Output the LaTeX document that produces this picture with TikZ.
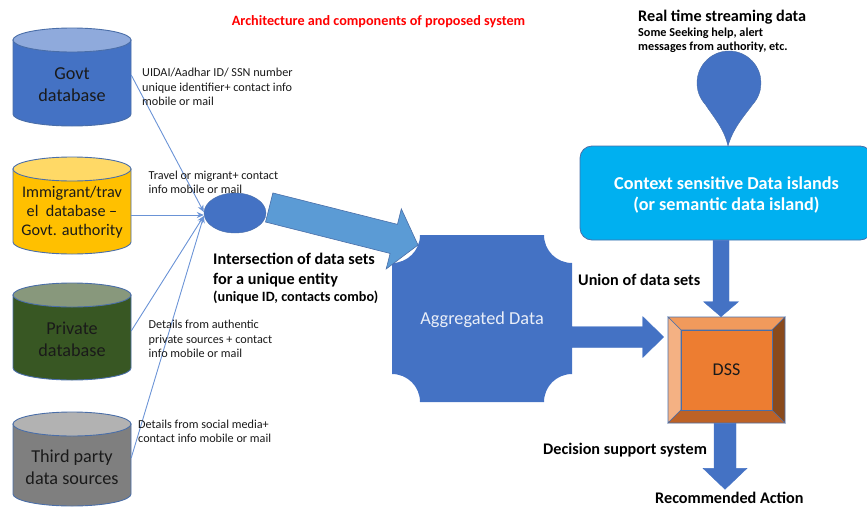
\documentclass[tikz,border=0pt]{standalone}
\usepackage{fontspec}
\setmainfont{Carlito}
\usetikzlibrary{arrows.meta,calc,shapes.geometric}
\definecolor{cblue}{HTML}{4472C4}
\definecolor{cbluetop}{HTML}{8FAADC}
\definecolor{cyel}{HTML}{FFC000}
\definecolor{cyeltop}{HTML}{FFD966}
\definecolor{cgreen}{HTML}{385723}
\definecolor{cgreentop}{HTML}{88987C}
\definecolor{cgray}{HTML}{7F7F7F}
\definecolor{cgraytop}{HTML}{B2B2B2}
\definecolor{cedge}{HTML}{4A6EA8}
\definecolor{cline}{HTML}{6A93D6}
\definecolor{cink}{HTML}{1A1A1A}
\definecolor{clight}{HTML}{5B9BD5}
\definecolor{cisland}{HTML}{00B0F0}
\definecolor{bevtop}{HTML}{F19A5C}
\definecolor{bevleft}{HTML}{F4B183}
\definecolor{bevright}{HTML}{8A4A1C}
\definecolor{bevbot}{HTML}{BD6226}
\definecolor{bevface}{HTML}{ED7D31}
\newcommand{\immfont}{\fontsize{16.2}{19}\selectfont}
\tikzset{
  cyltext/.style={font=\fontsize{18.2}{22}\selectfont,text=cink,align=center,inner sep=0pt},
  small/.style={font=\fontsize{12.2}{14.3}\selectfont,text=cink,align=left,anchor=west,inner sep=0pt},
  boldlab/.style={font=\bfseries\fontsize{16.2}{20}\selectfont,text=black,align=left,anchor=west,inner sep=0pt},
  thin link/.style={draw=cline,line width=0.9pt,-{Stealth[length=7pt,width=6pt]}},
  block/.style={fill=cblue,draw=cblue,line width=0.4pt},
  bevel/.style={draw=cedge,line width=0.6pt},
}
% #1 name, #2 top, #3 bottom, #4 body, #5 end, #6 text centre y, #7 text, #8 extra node style
\newcommand{\dbcyl}[8]{
  \path[fill=#4,draw=cedge,line width=0.9pt] (13,#2+12) -- (13,#3-12)
    arc[start angle=180,end angle=360,x radius=59pt,y radius=12pt] -- (131,#2+12) -- cycle;
  \path[fill=#5,draw=cedge,line width=0.9pt] (72,#2+12) ellipse[x radius=59pt,y radius=12pt];
  \node[cyltext,minimum width=118pt,#8] (#1) at (72,#6) {#7};
}
% #1 from, #2 tip, #3 half shaft, #4 half head, #5 head length, #6 style
\newcommand{\blockarrow}[6]{
  \coordinate (ba) at #1;
  \coordinate (bb) at #2;
  \coordinate (bn) at ($(bb)!#5pt!(ba)$);
  \path[#6] ($(ba)!#3pt!90:(bb)$) -- ($(bn)!#3pt!90:(bb)$) -- ($(bn)!#4pt!90:(bb)$) -- (bb)
    -- ($(bn)!#4pt!-90:(bb)$) -- ($(bn)!#3pt!-90:(bb)$) -- ($(ba)!#3pt!-90:(bb)$) -- cycle;
}
\begin{document}
\begin{tikzpicture}[x=1pt,y=-1pt]
\useasboundingbox (0,0) rectangle (867,506);
\clip (0,0) rectangle (867,506);

\node[font=\bfseries\fontsize{14.2}{14}\selectfont,text=red,inner sep=0pt] (title) at (378.5,21.5) {Architecture and components of proposed system};

% databases
\dbcyl{govt}{28}{126}{cblue}{cbluetop}{85}{Govt\\database}{}
\dbcyl{imm}{157}{254}{cyel}{cyeltop}{212}{Immigrant/trav\\el\ \ database --\\Govt. authority}{font=\immfont}
\dbcyl{priv}{283}{380}{cgreen}{cgreentop}{339}{Private\\database}{}
\dbcyl{third}{412}{506}{cgray}{cgraytop}{467}{Third party\\data sources}{}

% intersection ellipse
\node[ellipse,fill=cblue,draw=cedge,line width=0.4pt,minimum width=62pt,minimum height=40pt,inner sep=0pt] (ell) at (235,213) {};

% thin connectors
\draw[thin link] ([yshift=10pt]govt.east) -- ([yshift=1pt]ell.west);
\draw[thin link] ([yshift=-3pt]imm.east) -- ([yshift=-2pt]ell.west);
\draw[thin link] ([yshift=8pt]priv.east) -- ([yshift=-3pt]ell.west);
\draw[thin link] ([yshift=9pt]third.east) -- ([yshift=-3pt]ell.west);

% small labels
\node[small] (l1) at (142,87) {UIDAI/Aadhar ID/ SSN number\\unique identifier+ contact info\\mobile or mail};
\node[small] (l2) at (148.5,182) {Travel or migrant+ contact\\info mobile or mail};
\node[small] (l3) at (148.5,339) {Details from authentic\\private sources + contact\\info mobile or mail};
\node[small] (l4) at (138,431) {Details from social media+\\contact info mobile or mail};

% aggregated data plaque
\path[fill=cblue] (420,235) -- (544,235) .. controls (544,250.5) and (556.5,263) .. (572,263)
  -- (572,374) .. controls (556.5,374) and (544,386.5) .. (544,402)
  -- (420,402) .. controls (420,386.5) and (407.5,374) .. (392,374)
  -- (392,263) .. controls (407.5,263) and (420,250.5) .. (420,235) -- cycle;
\node[minimum width=180pt,minimum height=167pt,inner sep=0pt,text=white!88!cblue,font=\fontsize{18.3}{20}\selectfont] (agg) at (482,320) {Aggregated Data};

% big intersection arrow
\blockarrow{([shift={(3pt,5.5pt)}]ell.east)}{([shift={(-64pt,75pt)}]agg.center)}{15}{31}{25}{fill=clight,draw=cedge,line width=0.6pt}

% labels round the centre
\node[boldlab] (l5) at (213,270.5) {Intersection of data sets\\for a unique entity};
\node[font=\bfseries\fontsize{14.2}{14}\selectfont,text=black,anchor=west,inner sep=0pt] (l6) at (213,297) {(unique ID, contacts combo)};

% DSS bevel
\path[fill=bevtop,bevel] (668,317) -- (785,317) -- (772,330) -- (681,330) -- cycle;
\path[fill=bevleft,bevel] (668,317) -- (681,330) -- (681,410) -- (668,423) -- cycle;
\path[fill=bevright,bevel] (785,317) -- (772,330) -- (772,410) -- (785,423) -- cycle;
\path[fill=bevbot,bevel] (668,423) -- (681,410) -- (772,410) -- (785,423) -- cycle;
\node[fill=bevface,bevel,minimum width=91pt,minimum height=80pt,inner sep=0pt,text=cink,font=\fontsize{18}{20}\selectfont] (dss) at (726.5,370) {DSS};

% context island
\node[fill=cisland,draw=cedge,line width=0.8pt,rounded corners=12pt,minimum width=292pt,minimum height=94pt,inner sep=0pt] (island) at (726,193) {};
\node[text=white,align=center,inner sep=0pt,font=\bfseries\fontsize{18.2}{21}\selectfont] (islandtext) at (726.5,194.5) {Context sensitive Data islands\\(or semantic data island)};

% teardrop
\path[fill=cblue,draw=cedge,line width=0.4pt] (728,146) .. controls (724,128) and (712,115) .. (705.4,104.6)
  arc[start angle=222.5,end angle=-42.5,radius=32pt]
  .. controls (745,115) and (733,128) .. (728,146) -- cycle;

% block arrows
\blockarrow{([yshift=-17pt]agg.east)}{([shift={(-17pt,33pt)}]dss.west)}{10.5}{20.5}{21}{block}
\blockarrow{([xshift=-5pt]island.south)}{([shift={(-5.5pt,13pt)}]dss.north)}{8}{17.5}{15}{block}
\blockarrow{([shift={(-1.5pt,-13pt)}]dss.south)}{([shift={(-1.5pt,-79pt)}]dss.south)}{11}{22}{21}{block}

% right-hand labels
\node[boldlab] (l7) at (638,17) {Real time streaming data};
\node[font=\bfseries\fontsize{12.2}{14.3}\selectfont,text=black,align=left,anchor=west,inner sep=0pt] (l8) at (638,40) {Some Seeking help, alert\\messages from authority, etc.};
\node[boldlab] (l9) at (578,280) {Union of data sets};
\node[boldlab] (l10) at (543,450.5) {Decision support system};
\node[boldlab] (l11) at (655,497.5) {Recommended Action};
\end{tikzpicture}
\end{document}
